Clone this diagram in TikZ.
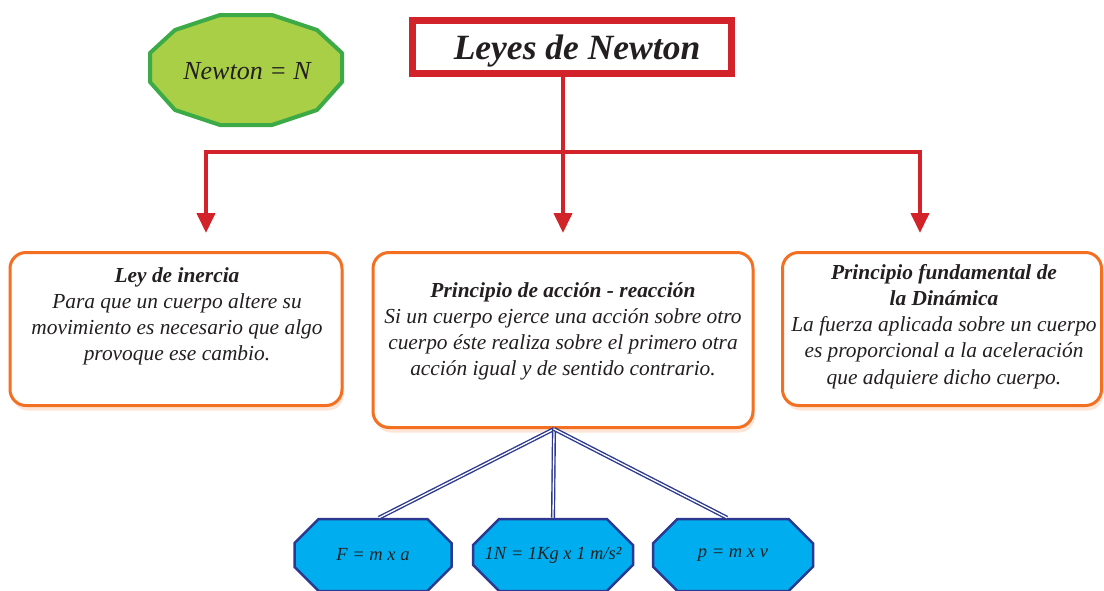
\documentclass[tikz,border=0pt]{standalone}
\usepackage{fontspec}
\setmainfont{Liberation Serif}
\usetikzlibrary{arrows.meta,shadows,shapes.misc}

\definecolor{rojo}{HTML}{D2232A}
\definecolor{naranja}{HTML}{F36F21}
\definecolor{verde}{HTML}{3DAA48}
\definecolor{lima}{HTML}{A8CF45}
\definecolor{celeste}{HTML}{00AEEF}
\definecolor{azul}{HTML}{2B3990}
\definecolor{tinta}{HTML}{231F20}

\tikzset{
    caja/.style={draw=naranja, line width=3pt, rounded corners=16pt, fill=white,
        drop shadow={fill=naranja!30, opacity=0.6, shadow xshift=2pt, shadow yshift=-5pt}},
    texto/.style={align=center, inner sep=0pt, text=tinta, anchor=north,
        font=\itshape\fontsize{21.4}{26.2}\selectfont},
    flecha/.style={draw=rojo, line width=4pt, -{Triangle[width=18pt,length=20pt]}},
    octo/.style={chamfered rectangle, chamfered rectangle xsep=40pt, chamfered rectangle ysep=18pt,
        draw=azul, fill=celeste, line width=2.5pt, inner sep=0pt, minimum height=72pt,
        text=tinta, font=\itshape\fontsize{18.5}{22}\selectfont},
    enlace/.style={draw=azul, line width=1.4pt, double=white, double distance=1.3pt},
}

\begin{document}
\begin{tikzpicture}[x=1pt, y=-1pt]
        \useasboundingbox (0,0) rectangle (1104,590);

        \filldraw[draw=verde, fill=lima, line width=4pt, line join=round]
            (220,15) -- (272,15) -- (317,30) -- (342,53) -- (342,82) -- (317,110)
            -- (272,125) -- (220,125) -- (175,110) -- (150,82) -- (150,53) -- (175,30) -- cycle;
        \node[text=tinta, font=\itshape\fontsize{26}{30}\selectfont] (unidad) at (247,71) {Newton = N};

        \node[draw=rojo, line width=7pt, minimum width=319pt, minimum height=53pt, inner sep=0pt,
            text=tinta, font=\bfseries\itshape\fontsize{35.5}{40}\selectfont] (titulo) at (572,47) {};
        \node[text=tinta, font=\bfseries\itshape\fontsize{35.5}{40}\selectfont] (ttitulo) at (577,51) {Leyes de Newton};

        \node[caja, minimum width=332pt, minimum height=153pt] (inercia) at (176,329) {};
        \node[caja, minimum width=380pt, minimum height=175pt] (accion) at (563,340) {};
        \node[caja, minimum width=319pt, minimum height=153pt] (dinamica) at (942,329) {};

        \node[texto] (tinercia) at (177,267) {\textbf{Ley de inercia}\\
            Para que un cuerpo altere su\\ movimiento es necesario que algo\\ provoque ese cambio.};
        \node[texto] (taccion) at (563,282) {\textbf{Principio de acción - reacción}\\
            Si un cuerpo ejerce una acción sobre otro\\ cuerpo éste realiza sobre el primero otra\\
            acción igual y de sentido contrario.};
        \node[texto] (tdinamica) at (944,264) {\textbf{Principio fundamental de}\\ \textbf{la Dinámica}\\
            La fuerza aplicada sobre un cuerpo\\ es proporcional a la aceleración\\ que adquiere dicho cuerpo.};

        \coordinate (baja) at (563,152);
        \coordinate (p1) at (206,233);
        \coordinate (p2) at (563,233);
        \coordinate (p3) at (920,233);
        \draw[rojo, line width=4pt] (titulo.south -| baja) -- (baja);
        \draw[flecha] (baja) -| (p1);
        \draw[flecha] (baja) -- (p2);
        \draw[flecha] (baja) -| (p3);

        \node[octo, minimum width=157pt] (fuerza) at (373,555) {F = m x a};
        \node[octo, minimum width=160pt] (newton) at (553,555) {1N = 1Kg x 1 m/s²};
        \node[octo, minimum width=160pt] (momento) at (733,555) {p = m x v};

        \coordinate (union) at (554,429);
        \draw[enlace] (union) -- ([xshift=6pt]fuerza.north);
        \draw[enlace] (union) -- (newton.north);
        \draw[enlace] (union) -- ([xshift=-6pt]momento.north);
\end{tikzpicture}
\end{document}
